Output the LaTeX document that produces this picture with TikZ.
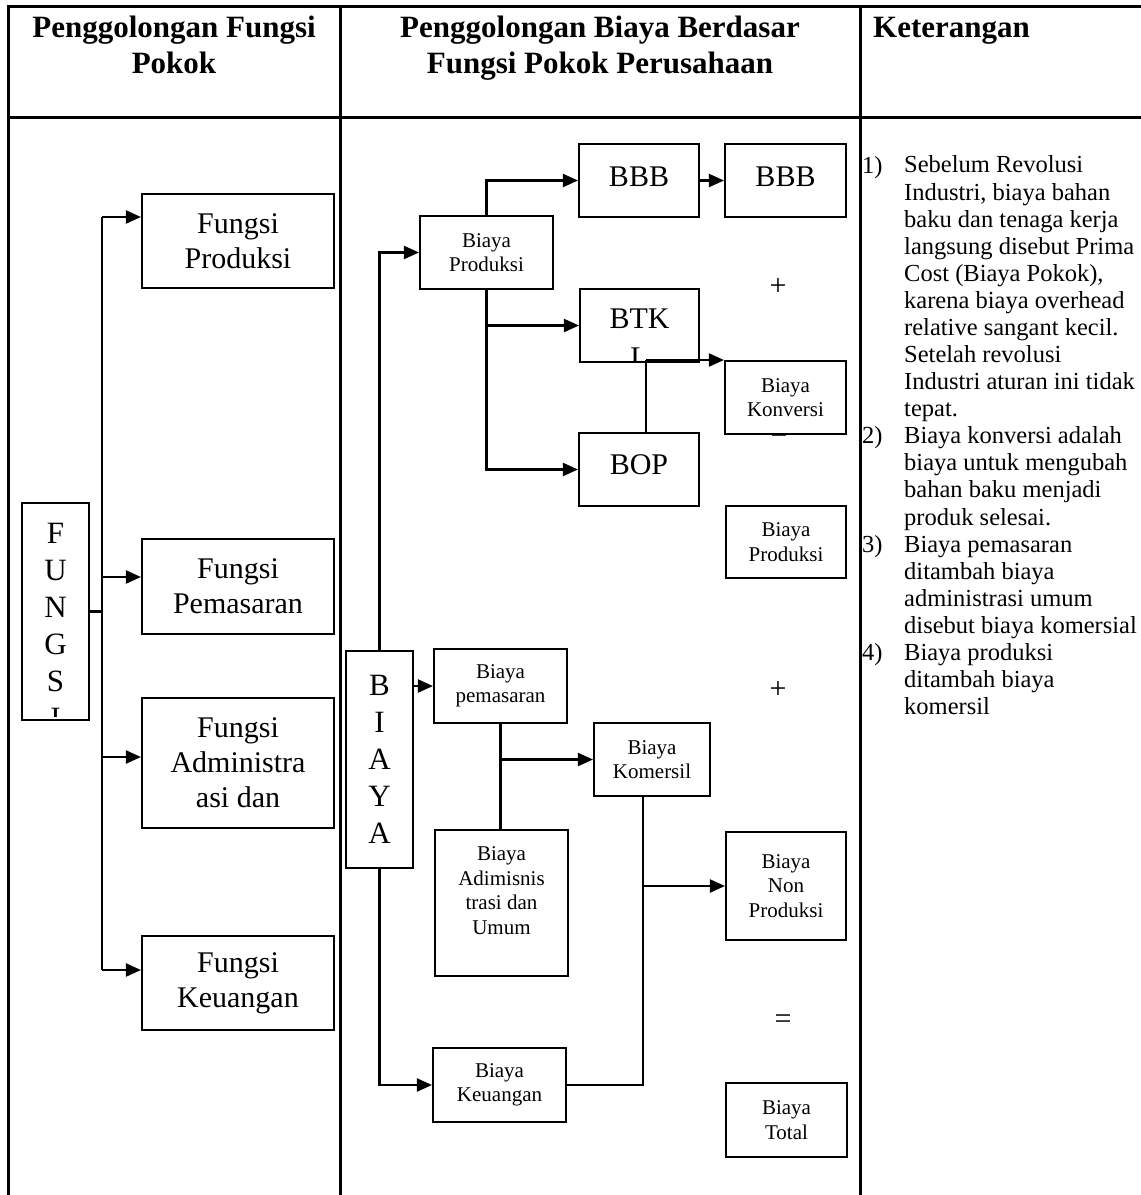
\documentclass[tikz,border=0pt]{standalone}
\usepackage{fontspec}
\setmainfont{Liberation Serif}
\usetikzlibrary{arrows.meta}
\begin{document}
\begin{tikzpicture}[x=1pt,y=-1pt,
  tline/.style={line width=3pt},
  box/.style={draw, line width=2.1pt, inner sep=0pt, align=center, fill=white},
  conn/.style={line width=2.1pt},
  arr/.style={conn, -{Triangle[length=15pt,width=13pt]}},
  hdr/.style={font=\bfseries\fontsize{31}{36}\selectfont, align=center, inner sep=0pt},
  bigtxt/.style={font=\fontsize{30}{35}\selectfont},
  smalltxt/.style={font=\fontsize{21}{24.5}\selectfont},
  ket/.style={font=\fontsize{24.5}{27.08}\selectfont, align=left, inner sep=0pt, anchor=base west},
  sign/.style={font=\fontsize{30}{30}\selectfont, inner sep=0pt},
  vlet/.style={inner sep=0pt, align=center, font=\fontsize{31}{37}\selectfont},
]
\useasboundingbox (0,0) rectangle (1141,1195);

% table
\draw[tline] (8,1195) -- (8,6) -- (1141,6);
\draw[tline] (8,117) -- (1141,117);
\draw[tline] (340,6) -- (340,1195);
\draw[tline] (860,6) -- (860,1195);

% headers (anchor = baseline of last line)
\node[hdr, anchor=base] (h1) at (174,73) {Penggolongan Fungsi\\Pokok};
\node[hdr, anchor=base] (h2) at (600,73) {Penggolongan Biaya Berdasar\\Fungsi Pokok Perusahaan};
\node[hdr, anchor=base west] (h3) at (873,37) {Keterangan};

% left column
\node[box, bigtxt, minimum width=192pt, minimum height=94pt] (fprod) at (238,241) {Fungsi\\Produksi};
\node[box, bigtxt, minimum width=192pt, minimum height=95pt] (fpem) at (238,586.5) {Fungsi\\Pemasaran};
\node[box, bigtxt, minimum width=192pt, minimum height=130pt] (fadm) at (238,763) {Fungsi\\Administra\\asi dan};
\node[box, bigtxt, minimum width=192pt, minimum height=94pt] (fkeu) at (238,983) {Fungsi\\Keuangan};

\node[box, minimum width=67pt, minimum height=217pt] (fungsi) at (55.5,611.5) {};
\begin{scope}
  \clip (23.5,504.5) rectangle (87.5,716);
  \node[vlet, anchor=base] (fungsitxt) at (55.5,728) {F\\U\\N\\G\\S\\I};
\end{scope}

\coordinate (s1) at (102,217);
\coordinate (s2) at (102,577);
\coordinate (s3) at (102,757);
\coordinate (s4) at (102,970);
\draw[conn] (fungsi.east) -- (fungsi.east -| s1);
\draw[conn] (s1) -- (s4);
\draw[arr] (s1) -- (s1 -| fprod.west);
\draw[arr] (s2) -- (s2 -| fpem.west);
\draw[arr] (s3) -- (s3 -| fadm.west);
\draw[arr] (s4) -- (s4 -| fkeu.west);

% signs (drawn before boxes)
\node[sign] (plus1) at (778,287) {+};
\node[sign] (eq1) at (779,436) {=};
\node[sign] (plus2) at (778,690) {+};
\node[sign] (eq2) at (783,1022) {=};

% middle column boxes
\node[box, vlet, minimum width=67pt, minimum height=217pt] (biaya) at (379.5,759.5) {B\\I\\A\\Y\\A};
\node[box, smalltxt, minimum width=133pt, minimum height=73pt] (bprod) at (486.5,252.5) {Biaya\\Produksi};
\node[box, bigtxt, minimum width=120pt, minimum height=73pt, text height=21pt, text depth=10pt] (bbb1) at (639,180.5) {BBB};
\node[box, bigtxt, minimum width=121pt, minimum height=73pt, text height=21pt, text depth=10pt] (bbb2) at (785.5,180.5) {BBB};
\node[box, bigtxt, minimum width=119pt, minimum height=73pt, text height=21pt, text depth=16pt] (btk) at (639.5,325.5) {BTK};
\begin{scope}
  \clip (581,290) rectangle (698,360.5);
  \node[inner sep=0pt, bigtxt, anchor=base] (btkl) at (639.5,367) {L};
\end{scope}
\node[box, bigtxt, minimum width=120pt, minimum height=73pt, text height=21pt, text depth=12pt] (bop) at (639,469.5) {BOP};
\node[box, smalltxt, minimum width=121pt, minimum height=73pt] (bkon) at (785.5,397.5) {Biaya\\Konversi};
\node[box, smalltxt, minimum width=120pt, minimum height=72pt] (bprod2) at (786,542) {Biaya\\Produksi};
\node[box, smalltxt, minimum width=133pt, minimum height=74pt] (bpem) at (500.5,686) {Biaya\\pemasaran};
\node[box, smalltxt, minimum width=116pt, minimum height=73pt] (bkom) at (652,759.5) {Biaya\\Komersil};
\node[box, smalltxt, minimum width=133pt, minimum height=146pt] (badm) at (501.5,903) {Biaya\\Adimisnis\\trasi dan\\Umum\\~};
\node[box, smalltxt, minimum width=133pt, minimum height=74pt] (bkeu) at (499.5,1085) {Biaya\\Keuangan};
\node[box, smalltxt, minimum width=120pt, minimum height=108pt] (bnon) at (786,886) {Biaya\\Non\\Produksi};
\node[box, smalltxt, minimum width=121pt, minimum height=74pt] (btot) at (786.5,1120) {Biaya\\Total};

% middle connectors
\draw[arr] (biaya.north) |- (bprod.west);
\draw[arr] (biaya.south) |- (bkeu.west);
\draw[arr] (biaya.east |- bpem.west) -- (bpem.west);
\draw[arr] (bprod.north) |- (bbb1.west);
\draw[arr] (bprod.south) |- (btk.west);
\draw[arr] (bprod.south) |- (bop.west);
\draw[arr] (bbb1.east) -- (bbb2.west);
\coordinate (j1) at (646,360);
\draw[conn] (bop.north -| j1) -- (j1);
\draw[arr] (j1) -- (j1 -| bkon.west);
\draw[conn] (bpem.south) -- (bpem.south |- badm.north);
\draw[arr] (bpem.south |- bkom.west) -- (bkom.west);
\coordinate (j2) at (643,1085);
\draw[conn] (bkom.south -| j2) |- (bkeu.east);
\draw[arr] (j2 |- bnon.west) -- (bnon.west);

% keterangan (anchor = baseline of last line)
\node[ket] (n1) at (862,173) {1)};
\node[ket] (k1) at (904,416.7) {Sebelum Revolusi\\Industri, biaya bahan\\baku dan tenaga kerja\\langsung disebut Prima\\Cost (Biaya Pokok),\\karena biaya overhead\\relative sangant kecil.\\Setelah revolusi\\Industri aturan ini tidak\\tepat.};
\node[ket] (n2) at (862,443.8) {2)};
\node[ket] (k2) at (904,525.0) {Biaya konversi adalah\\biaya untuk mengubah\\bahan baku menjadi\\produk selesai.};
\node[ket] (n3) at (862,552.1) {3)};
\node[ket] (k3) at (904,633.3) {Biaya pemasaran\\ditambah biaya\\administrasi umum\\disebut biaya komersial};
\node[ket] (n4) at (862,660.4) {4)};
\node[ket] (k4) at (904,714.6) {Biaya produksi\\ditambah biaya\\komersil};
\end{tikzpicture}
\end{document}
